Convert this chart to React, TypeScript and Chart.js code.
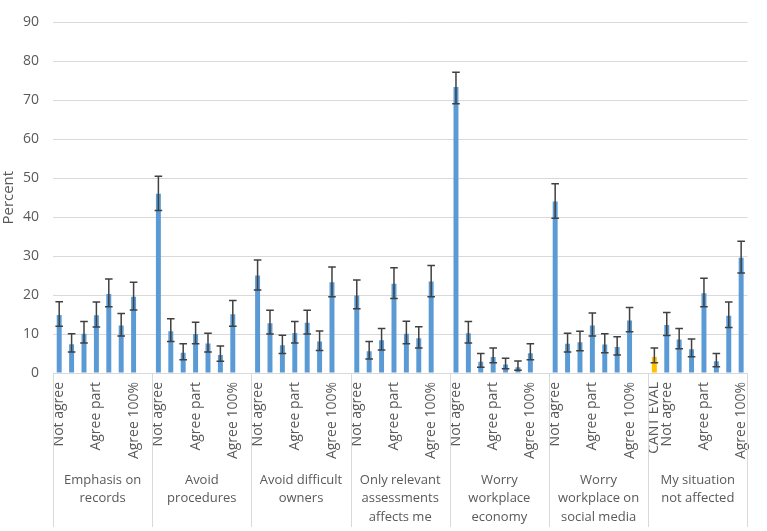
import React, { useEffect, useRef } from "react";
import { Chart, registerables } from "chart.js";

Chart.register(...registerables);

// Statement groups shown on the outer axis level
const groupNames: string[][] = [
  ["Emphasis on", "records"],
  ["Avoid", "procedures"],
  ["Avoid difficult", "owners"],
  ["Only relevant", "assessments", "affects me"],
  ["Worry", "workplace", "economy"],
  ["Worry", "workplace on", "social media"],
  ["My situation", "not affected"],
];

// Answer scale labels (inner axis level), eight slots per group
const scaleLabels = ["Not agree", "", "", "Agree part", "", "", "Agree 100%", ""];
const lastScaleLabels = ["CANT EVAL", "Not agree", "", "", "Agree part", "", "", "Agree 100%"];

// Share of respondents (%) per answer
const percent: (number | null)[][] = [
  [14.9, 7.4, 10.1, 14.8, 20.3, 12.2, 19.6, null],
  [46.0, 10.7, 5.2, 10.0, 7.6, 4.6, 15.1, null],
  [25.0, 12.8, 7.1, 10.3, 12.9, 8.1, 23.3, null],
  [19.9, 5.6, 8.4, 22.9, 10.1, 8.9, 23.5, null],
  [73.4, 10.2, 2.9, 4.1, 2.2, 1.5, 5.1, null],
  [44.0, 7.5, 7.9, 12.2, 7.3, 6.7, 13.5, null],
  [4.1, 12.3, 8.6, 6.1, 20.5, 3.0, 14.7, 29.6],
];

// Lower and upper confidence limits (%)
const ciLow: (number | null)[][] = [
  [12.0, 5.4, 7.7, 11.8, 17.0, 9.5, 16.2, null],
  [41.7, 8.1, 3.4, 7.5, 5.4, 3.0, 12.0, null],
  [21.3, 10.0, 5.0, 7.7, 10.0, 5.8, 19.6, null],
  [16.5, 3.6, 5.9, 19.1, 7.5, 6.4, 19.6, null],
  [69.1, 7.7, 1.5, 2.6, 1.1, 0.7, 3.4, null],
  [39.7, 5.4, 5.7, 9.5, 5.2, 4.6, 10.6, null],
  [2.6, 9.6, 6.2, 4.2, 17.0, 1.6, 11.7, 25.7],
];

const ciHigh: (number | null)[][] = [
  [18.3, 10.1, 13.2, 18.2, 24.1, 15.3, 23.3, null],
  [50.5, 13.9, 7.5, 13.0, 10.2, 6.9, 18.6, null],
  [29.0, 16.1, 9.7, 13.2, 16.1, 10.8, 27.2, null],
  [23.9, 8.1, 11.4, 27.0, 13.3, 11.9, 27.6, null],
  [77.2, 13.2, 5.0, 6.4, 3.8, 3.1, 7.5, null],
  [48.6, 10.2, 10.7, 15.4, 10.1, 9.3, 16.8, null],
  [6.4, 15.5, 11.4, 8.7, 24.3, 5.0, 18.2, 33.8],
];

const yTicks = [0, 10, 20, 30, 40, 50, 60, 70, 80, 90];

const BLUE = "#5B9BD5";
const GOLD = "#FFC000";
const TEXT = "#595959";
const GRID = "#d9d9d9";
const FONT = "'Open Sans', sans-serif";

const labels = groupNames.flatMap((_, g) =>
  g === groupNames.length - 1 ? lastScaleLabels : scaleLabels
);
const values = percent.flat();
const lows = ciLow.flat();
const highs = ciHigh.flat();
const colors = labels.map((l) => (l === "CANT EVAL" ? GOLD : BLUE));

const errorBarPlugin = {
  id: "errorBars",
  afterDatasetsDraw(chart: any) {
    const { ctx } = chart;
    const meta = chart.getDatasetMeta(0);
    const y = chart.scales.y;
    ctx.save();
    ctx.strokeStyle = "#404040";
    ctx.lineWidth = 1.5;
    lows.forEach((lo, i) => {
      const hi = highs[i];
      if (lo == null || hi == null) return;
      const bx = meta.data[i].x;
      const yLo = y.getPixelForValue(lo);
      const yHi = y.getPixelForValue(hi);
      const cap = 3.8;
      ctx.beginPath();
      ctx.moveTo(bx, yLo);
      ctx.lineTo(bx, yHi);
      ctx.moveTo(bx - cap, yLo);
      ctx.lineTo(bx + cap, yLo);
      ctx.moveTo(bx - cap, yHi);
      ctx.lineTo(bx + cap, yHi);
      ctx.stroke();
    });
    ctx.restore();
  },
};

const groupAxisPlugin = {
  id: "groupAxis",
  afterDraw(chart: any) {
    const { ctx, chartArea } = chart;
    const x = chart.scales.x;
    const n = groupNames.length;
    const w = (x.right - x.left) / n;
    const bottom = chart.height - 4;
    ctx.save();
    ctx.strokeStyle = GRID;
    ctx.lineWidth = 1;
    for (let g = 0; g <= n; g++) {
      const px = Math.round(x.left + g * w) + 0.5;
      ctx.beginPath();
      ctx.moveTo(px, chartArea.bottom);
      ctx.lineTo(px, bottom);
      ctx.stroke();
    }
    ctx.fillStyle = TEXT;
    ctx.font = `13px ${FONT}`;
    ctx.textAlign = "center";
    ctx.textBaseline = "middle";
    groupNames.forEach((lines, g) => {
      const cx = x.left + (g + 0.5) * w;
      lines.forEach((t, i) => {
        ctx.fillText(t, cx, chartArea.bottom + 107 + i * 18.4);
      });
    });
    ctx.restore();
  },
};

export default function App() {
  const canvasRef = useRef<HTMLCanvasElement | null>(null);

  useEffect(() => {
    const canvas = canvasRef.current;
    if (!canvas) return;
    const chart = new Chart(canvas, {
      type: "bar",
      data: {
        labels,
        datasets: [
          {
            data: values,
            backgroundColor: colors,
            barPercentage: 0.4,
            categoryPercentage: 1.0,
          },
        ],
      },
      options: {
        animation: false,
        responsive: false,
        maintainAspectRatio: false,
        layout: { padding: { top: 9, right: 5, left: 0, bottom: 0 } },
        plugins: {
          legend: { display: false },
          tooltip: { enabled: false },
        },
        scales: {
          x: {
            type: "category",
            offset: true,
            grid: { display: false, drawTicks: false },
            border: { display: true, color: GRID, width: 1 },
            ticks: {
              autoSkip: false,
              minRotation: 90,
              maxRotation: 90,
              padding: 9,
              color: TEXT,
              font: { family: FONT, size: 14 },
            },
            afterFit(scale: any) {
              scale.height = 158;
            },
          },
          y: {
            min: 0,
            max: 90,
            afterBuildTicks(scale: any) {
              scale.ticks = yTicks.map((v) => ({ value: v }));
            },
            grid: { color: GRID, lineWidth: 1, drawTicks: false },
            border: { display: false },
            ticks: {
              padding: 14,
              color: TEXT,
              font: { family: FONT, size: 14 },
            },
            title: {
              display: true,
              text: "Percent",
              color: TEXT,
              font: { family: FONT, size: 15 },
              padding: { top: 0, bottom: 0 },
            },
            afterFit(scale: any) {
              scale.width = 53;
            },
          },
        },
      },
      plugins: [errorBarPlugin, groupAxisPlugin],
    });
    return () => chart.destroy();
  }, []);

  return (
    <div style={{ position: "fixed", left: 0, top: 0, width: 767, height: 531, background: "#fff" }}>
      <canvas ref={canvasRef} width={767} height={531} style={{ display: "block" }} />
    </div>
  );
}
